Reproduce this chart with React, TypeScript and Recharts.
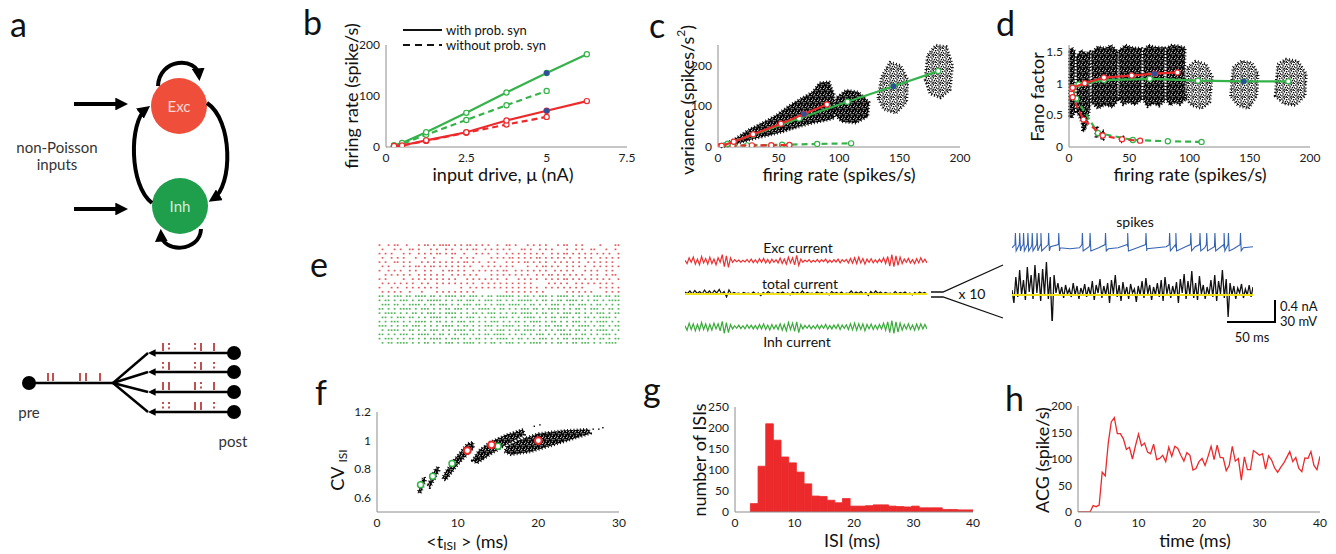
import React from "react";
import {
  ScatterChart,
  Scatter,
  XAxis,
  YAxis,
  ReferenceArea,
  ReferenceLine,
  LineChart,
  Line,
  ComposedChart,
  Bar,
} from "recharts";

const FONT = "Lato, 'Open Sans', sans-serif";
const AX = "#8c8c8c";
const GREEN = "#35b34a";
const RED = "#ec2a2c";
const BLUE = "#2d4f9c";

// ---- b: firing rate vs input drive
const driveAll = [0.25, 0.5, 1.25, 2.5, 3.75, 5, 6.25];
const driveNoProb = [0.25, 0.5, 1.25, 2.5, 3.75, 5];
const inhRateWith = [3, 8, 29, 67, 107, 145, 182];
const excRateWith = [2, 3, 13, 29, 52, 71, 90];
const inhRateWithout = [3, 6, 24, 53, 82, 110];
const excRateWithout = [2, 3, 12, 28, 44, 59];

// ---- c: spike count variance
const inhVarWith = [2.8, 7.8, 30, 70, 111, 149, 186];
const excVarWith = [1.8, 2.8, 13, 31, 57, 81, 104];
const inhVarWithout = [2.8, 4.5, 4, 5.5, 7.5, 9];
const excVarWithout = [1.7, 2, 3.5, 4, 4.3, 4.8];

// ---- d: Fano factor
const inhFanoWith = [0.93, 0.98, 1.05, 1.07, 1.04, 1.03, 1.03];
const excFanoWith = [0.91, 0.93, 1.0, 1.09, 1.12, 1.15, 1.17];
const inhFanoWithout = [0.93, 0.76, 0.22, 0.11, 0.09, 0.08];
const excFanoWithout = [0.84, 0.78, 0.43, 0.18, 0.12, 0.1];

// trial clouds (outline of the dot clouds, data units)
const cBand = [[3, 0], [5, 6], [15, 22], [25, 42], [37, 60], [48, 78], [58, 100], [68, 118], [78, 135], [84, 158], [92, 160], [96, 130], [96, 70], [88, 64], [78, 58], [68, 50], [55, 38], [42, 28], [30, 20], [18, 10], [8, 2]];
const c107 = [[95, 85], [98, 122], [106, 140], [116, 135], [125, 110], [124, 75], [114, 58], [102, 62]];
const c145 = [[132, 120], [135, 172], [142, 208], [151, 200], [157, 165], [156, 110], [147, 82], [137, 92]];
const c182 = [[171, 165], [173, 225], [180, 250], [189, 246], [194, 200], [192, 140], [184, 120], [175, 130]];

const dA = [[0.3, 0.48], [0.3, 1.52], [2.5, 1.56], [5, 1.5], [4.5, 1.0], [5, 0.55], [2.5, 0.45]];
const dB = [[6, 0.55], [6.5, 1.0], [6, 1.42], [10, 1.52], [14, 1.47], [17.5, 1.5], [17, 1.0], [17.5, 0.62], [14.5, 0.32], [12, 0.24], [10.5, 0.38], [8, 0.5]];
const dC = [[18.5, 0.7], [19, 1.1], [18.5, 1.48], [24, 1.58], [30, 1.55], [35, 1.6], [40.5, 1.5], [40, 1.05], [40.5, 0.72], [36, 0.62], [30, 0.66], [24, 0.6]];
const dD = [[41.5, 0.75], [42, 1.1], [41.5, 1.52], [47, 1.6], [53, 1.56], [60.5, 1.55], [60, 1.1], [60.5, 0.74], [55, 0.66], [49, 0.7], [45, 0.66]];
const dE = [[61.5, 0.74], [62, 1.1], [61.5, 1.52], [66, 1.6], [72, 1.57], [79.5, 1.56], [79, 1.1], [79.5, 0.72], [75, 0.64], [70, 0.68], [65, 0.63]];
const dF = [[80.5, 0.74], [81, 1.1], [80.5, 1.55], [85, 1.6], [91, 1.59], [96.5, 1.56], [96, 1.1], [96.5, 0.74], [92, 0.66], [88, 0.7], [84, 0.65]];
const dG = [[97, 0.75], [98, 1.25], [105, 1.35], [114, 1.3], [119, 1.1], [117, 0.7], [110, 0.6], [102, 0.65]];
const dH = [[134, 0.8], [136, 1.25], [143, 1.35], [152, 1.32], [157, 1.15], [156, 0.8], [149, 0.6], [140, 0.65]];
const dI = [[171, 0.8], [173, 1.3], [180, 1.38], [190, 1.35], [197, 1.15], [196, 0.8], [188, 0.65], [178, 0.68]];
const dS1 = [[11, 0.25], [11.5, 0.55], [13.5, 0.55], [13, 0.25]];
const dS2 = [[22, 0.15], [22.5, 0.32], [24, 0.32], [23.5, 0.15]];
const dS3 = [[27, 0.12], [27.5, 0.26], [29, 0.26], [28.5, 0.12]];
const dS4 = [[43, 0.08], [43.5, 0.16], [45, 0.16], [44.5, 0.08]];

// ---- e: raster (1 = spike), currents, membrane potential
const excRaster = [
  "1..1.11..1...1.11.1.1111.1.1.11.1.1.1..1..11.1...1.1.1.1...1.11..1.1.....1....11",
  ".1...1.1..11.1...1.1..1.1..1.1.11..1.1.1.1.1...11.1..1.1.1....1..1.1..11...1..1.",
  "1.1.1...1.1..1.1.1.11.1.11..1...1.1.1..1..1.1.1.1.1.1.1..1.1.11.1.1.1.1.1.1.1..1",
  ".1..1.1.1...1..1..1.....1..1.1.1.....1.1.1.11.1.1.1.11.1.1.1.1.1..1.1.1..1.1.1.1",
  "1.1..11.1.1...1.1.1.1.1.1.1.11.1.1..1.1...1.1.1.11.1.1.1..1.1.1.1.1..1.1.1.1.1..",
  ".1.1....1.1.11.1.11.1.1.1.1.1.1...1.1.1.1.1.1....1..1.11.1.1..1.1.1.1..1.1.1.1.1",
  "1..1.1.1..1.1..1.1...1.11.1.1..1.1.1.1.1.11..1.1.1.1.1.1..1.1.1.1...1.1.1..1.1..",
  "..1.1.1.1.1..1.1.1.1.1..1.1.1.1.1....1.1.1.1.1.1.1..1.1.11.1.1.1.1.1..1.1..1.11.",
  "1.1.....1..1.1.1.1.1.1.1.1...1.1.1.1.1.1..1...1.1.1.1..1.1.1.11.1.1.1.1.1.1.1..1",
  ".1.1.1.1.1.1..1.1..1.1.1.1.1.1.1..1.1.1.1.1.1.1.1.1.....1.1.1.1..1.1.1.1.1.1.1..",
  "1...1.1..1.1.1.1.1.1.......1..1.1.1.1.1.1.1.1.1.1.1.1..1.1.1.1.1.1.1.....1.1.1.1",
  ".1.1.1.1..1...1....1.1.1.1.1.1.1..........1.1.1.1.1.1.1.......1.1.1.1.1....1.1.1",
];
const inhRaster = [
  "11.1.111.11.1111.11.1.1111.11.111.1.11.111111.1.11.1.111.1.1111.1.11.1.111.11.11",
  "1.11.1.111.1.11.11111.1.1.11.111.1.111.11.1.1.11111.1.11.1.11.1111.1.1.11.1.1111",
  ".111.11.1.1111.1.11.111.1.1.111.11.1.1.111.1111.1.11.1.1.111.1.11.111.1.11.1.1.1",
  "11.1.1.1111.1.111.1.1.11.111.1.1.1111.1.11.1.1.111.11.1.1111.1.1.11.1.111.1.11.1",
  "1.1111.1.1.11.1.111.1.1111.1.1.11.1.111.1.1.11.1111.1.11.1.1.111.11.1.1.111.1.11",
  ".11.1.111.11.1.1.1111.1.11.1.111.1.1.11.111.1.1.1111.1.1.11.111.1.1.11.1.1111.1.",
  "1.1.111.1.1.1111.1.11.1.1.111.11.1.1.111.1.1.11.1.1111.1.11.1.1.111.1.1.1111.1.1",
  "111.1.1.11.111.1.1.1.1111.1.11.1.1.111.1.1111.1.11.1.1.11.111.1.1.1111.1.11.1.11",
  ".1.1111.1.11.1.1.111.1.1.1111.11.1.1.1.111.1.11.1111.1.1.1.111.1.11.1.1.1111.1.1",
  "11.1.1.111.1.1111.1.11.1.1.111.1.1.11.1111.1.1.11.1.111.1.1.1111.1.11.1.1.111.1.",
  "1.111.1.1.11.1.1.1111.1.111.1.1.11.1.1.1111.1.11.1.1.111.1.1.11.1111.1.1.11.1.11",
  ".1.11.1111.1.1.11.1.1.111.1.1111.1.1.11.1.111.1.1.1111.1.1.11.1.11.111.1.1.1111.",
];
const excCurrent = [0.1, -0.4, 0.5, -0.2, 0.6, -0.5, 0.3, -0.6, 0.7, -0.3, 0.4, -0.5, 0.6, -0.4, 0.3, -0.6, 0.5, -0.2, 1, -0.9, 0.8, -1, 0.5, -0.2, 0.2, -0.1, 0.15, -0.2, 0.1, -0.15, 0.25, -0.2, 0.3, -0.25, 0.2, -0.3, 0.35, -0.2, 0.4, -0.3, 0.25, -0.35, 0.3, -0.2, 0.2, -0.3, 0.45, -0.4, 0.3, -0.5, 0.6, -0.3, 0.5, -0.6, 0.9, -0.7, 0.3, -0.2, 0.15, -0.1, 0.2, -0.2, 0.1, -0.15, 0.25, -0.2, 0.2, -0.1, 0.3, -0.25, 0.15, -0.2, 0.2, -0.15, 0.3, -0.3, 0.2, -0.1, 0.25, -0.3, 0.4, -0.35, 0.5, -0.4, 0.6, -0.3, 0.4, -0.5, 0.3, -0.2, 0.35, -0.3, 0.2, -0.25, 0.3, -0.2, 0.5, -0.4, 0.7, -0.8, 1, -0.9, 0.8, -0.7, 0.6, -0.4, 0.3, -0.2, 0.4, -0.3, 0.2, -0.4, 0.35, -0.3, 0.5, -0.2, 0.3, -0.3];
const inhCurrent = [0.2, -0.5, 0.6, -0.4, 0.5, -0.6, 0.4, -0.5, 0.7, -0.4, 0.5, -0.6, 0.4, -0.5, 0.6, -0.3, 0.5, -0.6, 0.9, -1, 0.7, -0.9, 0.4, -0.3, 0.2, -0.2, 0.3, -0.25, 0.2, -0.3, 0.35, -0.2, 0.3, -0.3, 0.25, -0.35, 0.4, -0.3, 0.5, -0.4, 0.3, -0.45, 0.4, -0.3, 0.3, -0.4, 0.5, -0.5, 0.4, -0.6, 0.7, -0.4, 0.6, -0.7, 0.8, -0.9, 0.4, -0.3, 0.25, -0.2, 0.3, -0.3, 0.2, -0.25, 0.35, -0.3, 0.3, -0.2, 0.4, -0.35, 0.25, -0.3, 0.3, -0.25, 0.4, -0.4, 0.3, -0.2, 0.35, -0.4, 0.5, -0.45, 0.6, -0.5, 0.5, -0.4, 0.5, -0.6, 0.4, -0.3, 0.45, -0.4, 0.3, -0.35, 0.4, -0.3, 0.6, -0.5, 0.8, -0.9, 1, -1, 0.8, -0.8, 0.6, -0.5, 0.4, -0.3, 0.5, -0.4, 0.3, -0.5, 0.45, -0.4, 0.5, -0.3, 0.4, -0.3];
const totalCurrent = [0.4, 0.1, 0.6, 0, 0.7, 0.1, 0.5, 0, 0.8, 0.1, 0.6, 0, 0.7, 0.2, 0.9, 0, 0.5, -0.6, 0.8, 0, 0.3, 0.1, 0.2, 0, 0.3, 0.1, 0.2, 0, 0.4, 0, 0.2, -0.3, 0.3, 0, 0.5, 0.1, 0.2, 0, 0.3, 0.1, 0.4, 0, 0.2, -0.2, 0.4, 0.1, 0.3, 0, 0.6, 0, 0.3, 0.1, 0.2, 0, 0.4, 0.1, 0.3, 0, 0.2, -0.2, 0.5, 0.1, 0.3, 0, 0.4, 0, 0.2, 0.1, 0.6, 0, 0.4, 0.1, 0.5, 0, 0.3, -0.3, 0.5, 0, 0.6, 0.1, 0.4, 0, 0.3, 0.1, 0.2, 0, 0.5, 0, 0.3, 0.1, 0.4, 0, 0.2, -0.2, 0.3, 0, 0.4, 0.1, 0.3, 0];
const totalZoom = [5, -8, 18, -2, 25, 0, 15, -5, 28, 3, 20, -4, 30, 2, 22, -6, 26, 0, 33, -4, 18, -30, 20, 2, 12, 0, 8, -3, 10, 1, 6, -2, 12, 0, 9, -4, 7, 1, 11, -2, 8, 0, 14, -5, 10, 2, 16, -3, 9, 0, 12, -8, 15, 1, 20, -2, 10, -6, 13, 0, 8, -4, 11, 2, 6, -7, 9, 0, 14, -3, 17, 1, 10, -5, 8, 0, 12, -2, 15, -6, 18, 1, 11, -3, 9, 0, 13, -8, 16, 2, 21, -4, 14, 0, 24, -3, 12, -5, 19, 1, 10, -4, 8, 0, 15, -2, 20, -6, 14, 1, 25, -3, 16, -22, 12, 0, 9, -4, 7, 2, 11, -3, 6, 0, 10, -2, 8];
const vmEvery10ms = [-1, 0, 0, 1, 0, -1, -2, -1, 0, -1, -2, -1, 0, -1, -2, -1, 0, -1, 0, 0, -1, 0, -1, -2, -1, 0];
const spikeTimes = [3.5, 8, 12, 16.5, 21, 26, 30, 38, 48.5, 73, 81, 97, 120, 139, 163.5, 170, 185.5, 195, 202, 210.5, 220, 224.5, 237];

// ---- f: CV vs mean ISI
const fC1 = [[5.1, 0.64], [5.4, 0.63], [6.0, 0.72], [5.9, 0.745], [5.6, 0.73]];
const fC2 = [[6.3, 0.69], [6.55, 0.67], [7.7, 0.79], [7.6, 0.82], [7.2, 0.8]];
const fC3 = [[8.1, 0.74], [8.5, 0.72], [10, 0.83], [12, 0.95], [11.9, 0.99], [11.2, 0.98], [9.6, 0.87], [8.6, 0.79]];
const fC4 = [[11.8, 0.86], [12.4, 0.84], [14, 0.9], [16, 0.97], [18.3, 1.04], [18.1, 1.08], [16, 1.04], [14, 0.99], [12.6, 0.93]];
const fC5 = [[15.8, 0.92], [16.6, 0.9], [19, 0.92], [22, 0.97], [26.5, 1.05], [26.2, 1.08], [23, 1.07], [20, 1.05], [17.5, 1.0], [16.1, 0.96]];
const fStrayX = [12.5, 13, 18.5, 19.5, 20.2, 21, 24, 26.8, 27.5, 28];
const fStrayY = [0.87, 0.88, 1.02, 1.1, 1.11, 1.04, 1.02, 1.08, 1.08, 1.09];
const fGreenX = [5.4, 6.9, 9.3, 15.0];
const fGreenY = [0.69, 0.75, 0.84, 0.96];
const fRedX = [11.2, 14.2, 20.0];
const fRedY = [0.93, 0.97, 1.0];

// ---- g: ISI histogram, 31 bins over 0-40 ms
const isiCounts = [0, 0, 20, 109, 210, 171, 131, 117, 95, 67, 38, 37, 28, 22, 32, 14, 14, 15, 17, 17, 14, 13, 12, 14, 10, 10, 10, 6, 6, 5, 5];

// ---- h: autocorrelogram, every 0.5 ms
const acg = [0, 0, 0, 0, 0, 12, 10, 13, 75, 68, 130, 170, 178, 148, 148, 138, 118, 122, 100, 125, 147, 125, 130, 113, 110, 128, 99, 101, 107, 95, 122, 105, 124, 120, 107, 96, 112, 107, 79, 82, 95, 101, 88, 105, 124, 99, 126, 103, 102, 78, 88, 124, 96, 101, 60, 104, 80, 80, 116, 112, 107, 110, 81, 106, 98, 83, 75, 84, 92, 103, 114, 95, 103, 82, 76, 102, 101, 114, 88, 80, 105];

const xy = (xs: number[], ys: number[]) => xs.map((x, i) => ({ x, y: ys[i] }));
const series = (vals: number[]) => vals.map((v, i) => ({ i, v }));
const rasterPts = (rows: string[], top: number) =>
  rows.flatMap((row, r) =>
    [...row].flatMap((ch, c) => (ch === "1" ? [{ x: c + 0.5, y: top - r - 0.5 }] : []))
  );
const vmPts = [
  ...vmEvery10ms.map((v, i) => ({ t: i * 10, v })),
  ...spikeTimes.flatMap((t) => [
    { t: t - 0.4, v: 2 },
    { t, v: 13 },
    { t: t + 0.8, v: -4 },
  ]),
].sort((a, b) => a.t - b.t);

const YW = 40, MT = 10, MR = 20, XH = 22;
const frame = (l: number, t: number, w: number, h: number) => ({
  style: { position: "absolute" as const, left: l - YW, top: t - MT },
  width: YW + w + MR,
  height: MT + h + XH,
  margin: { top: MT, right: MR, left: 0, bottom: 0 },
});
const tickFont = { fill: "#1a1a1a", fontSize: 12, fontFamily: FONT };

const xAx = (domain: number[], ticks: number[]) => (
  <XAxis type="number" dataKey="x" domain={domain} ticks={ticks} interval={0} height={XH}
    axisLine={{ stroke: AX }} tickLine={false} tickSize={3} tickMargin={3} tick={tickFont} allowDataOverflow />
);
const yAx = (domain: number[], ticks: number[], key = "y") => (
  <YAxis type="number" dataKey={key} domain={domain} ticks={ticks} interval={0} width={YW}
    axisLine={{ stroke: AX }} tickLine={false} tickSize={3} tickMargin={3} tick={tickFont} allowDataOverflow />
);

const ring = (c: string, r = 2.6, sw = 1.2) => (p: any) => (
  <circle cx={p.cx} cy={p.cy} r={r} fill="#fff" stroke={c} strokeWidth={sw} />
);
const blueDot = (p: any) => <circle cx={p.cx} cy={p.cy} r={2.8} fill={BLUE} />;
const speck = (p: any) => <rect x={p.cx - 0.7} y={p.cy - 0.7} width={1.4} height={1.4} fill="#000" />;

const cloud = (pts: number[][], key: string, fill: string) => {
  const xs = pts.map((p) => p[0]);
  const ys = pts.map((p) => p[1]);
  const x1 = Math.min(...xs), x2 = Math.max(...xs), y1 = Math.min(...ys), y2 = Math.max(...ys);
  return (
    <ReferenceArea key={key} x1={x1} x2={x2} y1={y1} y2={y2} ifOverflow="visible"
      shape={(p: any) => {
        const pp = pts
          .map(([vx, vy]) => `${p.x + ((vx - x1) / (x2 - x1)) * p.width},${p.y + ((y2 - vy) / (y2 - y1)) * p.height}`)
          .join(" ");
        return (
          <polygon points={pp} fill={`url(#${fill})`} stroke="#000" strokeWidth={2.6}
            strokeDasharray="0.9 2.3" strokeLinejoin="round" />
        );
      }}
    />
  );
};

const curve = (data: any[], color: string, dashed: boolean, marker: any, key: string) => (
  <Scatter key={key} data={data} isAnimationActive={false} shape={marker} lineType="joint"
    line={{ stroke: color, strokeWidth: 2.2, strokeDasharray: dashed ? "6 4" : undefined }} />
);

function Trace({ l, t, w, h, vals, domain, color, sw = 1.2, zero }: any) {
  return (
    <div style={{ position: "absolute", left: l, top: t }}>
      <LineChart width={w} height={h} data={series(vals)} margin={{ top: 0, right: 0, left: 0, bottom: 0 }}>
        <XAxis type="number" dataKey="i" domain={[0, vals.length - 1]} hide />
        <YAxis type="number" domain={domain} hide allowDataOverflow />
        <Line dataKey="v" stroke={color} strokeWidth={sw} dot={false} type="linear" isAnimationActive={false} />
        {zero ? <ReferenceLine y={0} stroke={zero} strokeWidth={2} ifOverflow="visible" /> : null}
      </LineChart>
    </div>
  );
}

function PanelB() {
  const f = frame(386, 45, 241, 102);
  return (
    <div style={f.style}>
      <ScatterChart width={f.width} height={f.height} margin={f.margin}>
        {xAx([0, 7.5], [0, 2.5, 5, 7.5])}
        {yAx([0, 200], [0, 100, 200])}
        {curve(xy(driveNoProb, inhRateWithout), GREEN, true, ring(GREEN), "g2")}
        {curve(xy(driveNoProb, excRateWithout), RED, true, ring(RED), "r2")}
        {curve(xy(driveAll, inhRateWith), GREEN, false, ring(GREEN), "g1")}
        {curve(xy(driveAll, excRateWith), RED, false, ring(RED), "r1")}
        <Scatter data={[{ x: driveAll[5], y: inhRateWith[5] }, { x: driveAll[5], y: excRateWith[5] }]} shape={blueDot} isAnimationActive={false} />
      </ScatterChart>
    </div>
  );
}

function PanelC() {
  const f = frame(718, 45, 242, 102);
  return (
    <div style={f.style}>
      <ScatterChart width={f.width} height={f.height} margin={f.margin}>
        {xAx([0, 200], [0, 50, 100, 150, 200])}
        {yAx([0, 250], [0, 100, 200])}
        {cloud(cBand, "cb", "pD")}
        {cloud(c107, "c1", "pD")}
        {cloud(c145, "c2", "pM")}
        {cloud(c182, "c3", "pM")}
        {curve(xy(inhRateWithout, inhVarWithout), GREEN, true, ring(GREEN), "g2")}
        {curve(xy(excRateWithout, excVarWithout), RED, true, ring(RED), "r2")}
        {curve(xy(inhRateWith, inhVarWith), GREEN, false, ring(GREEN), "g1")}
        {curve(xy(excRateWith, excVarWith), RED, false, ring(RED), "r1")}
        <Scatter data={[{ x: inhRateWith[5], y: inhVarWith[5] }, { x: excRateWith[5], y: excVarWith[5] }]} shape={blueDot} isAnimationActive={false} />
      </ScatterChart>
    </div>
  );
}

function PanelD() {
  const f = frame(1069, 45, 241, 102);
  const dense = [dA, dB, dC, dD, dE, dF, dS1, dS2, dS3, dS4];
  const medium = [dG, dH, dI];
  return (
    <div style={f.style}>
      <ScatterChart width={f.width} height={f.height} margin={f.margin}>
        {xAx([0, 200], [0, 50, 100, 150, 200])}
        {yAx([0, 1.6], [0, 0.5, 1, 1.5])}
        {dense.map((p, i) => cloud(p, "dd" + i, "pD"))}
        {medium.map((p, i) => cloud(p, "dm" + i, "pM"))}
        {curve(xy(inhRateWithout, inhFanoWithout), GREEN, true, ring(GREEN), "g2")}
        {curve(xy(excRateWithout, excFanoWithout), RED, true, ring(RED), "r2")}
        {curve(xy(inhRateWith, inhFanoWith), GREEN, false, ring(GREEN), "g1")}
        {curve(xy(excRateWith, excFanoWith), RED, false, ring(RED), "r1")}
        <Scatter data={[{ x: inhRateWith[5], y: inhFanoWith[5] }, { x: excRateWith[5], y: excFanoWith[5] }]} shape={blueDot} isAnimationActive={false} />
      </ScatterChart>
    </div>
  );
}

function PanelF() {
  const f = frame(377, 412, 242, 100);
  return (
    <div style={f.style}>
      <ScatterChart width={f.width} height={f.height} margin={f.margin}>
        {xAx([0, 30], [0, 10, 20, 30])}
        {yAx([0.5, 1.2], [0.6, 0.8, 1, 1.2])}
        {[fC1, fC2, fC3, fC4, fC5].map((p, i) => cloud(p, "f" + i, "pD"))}
        <Scatter data={xy(fStrayX, fStrayY)} shape={speck} isAnimationActive={false} />
        <Scatter data={xy(fGreenX, fGreenY)} shape={ring(GREEN, 3, 1.5)} isAnimationActive={false} />
        <Scatter data={xy(fRedX, fRedY)} shape={ring(RED, 3.4, 2)} isAnimationActive={false} />
      </ScatterChart>
    </div>
  );
}

function PanelG() {
  const plotW = 238;
  const f = frame(735, 407, plotW, 105);
  const binW = 40 / isiCounts.length;
  const data = isiCounts.map((n, i) => ({ x: (i + 0.5) * binW, n }));
  return (
    <div style={f.style}>
      <ComposedChart width={f.width} height={f.height} margin={f.margin} data={data} barGap={0}>
        {xAx([0, 40], [0, 10, 20, 30, 40])}
        {yAx([0, 250], [0, 50, 100, 150, 200, 250], "n")}
        <Bar dataKey="n" fill={RED} stroke={RED} strokeWidth={0.8}
          barSize={plotW / isiCounts.length - 0.02} isAnimationActive={false} />
      </ComposedChart>
    </div>
  );
}

function PanelH() {
  const f = frame(1078, 406, 242, 106);
  const data = acg.map((v, i) => ({ x: i * 0.5, v }));
  return (
    <div style={f.style}>
      <LineChart width={f.width} height={f.height} margin={f.margin} data={data}>
        {xAx([0, 40], [0, 10, 20, 30, 40])}
        {yAx([0, 200], [0, 50, 100, 150, 200], "v")}
        <Line dataKey="v" stroke={RED} strokeWidth={1.3} dot={false} type="linear" isAnimationActive={false} />
      </LineChart>
    </div>
  );
}

function Raster() {
  const sq = (c: string) => (p: any) => <rect x={p.cx - 0.9} y={p.cy - 0.8} width={1.8} height={1.6} fill={c} />;
  return (
    <div style={{ position: "absolute", left: 378, top: 243 }}>
      <ScatterChart width={242} height={102} margin={{ top: 0, right: 0, left: 0, bottom: 0 }}>
        <XAxis type="number" dataKey="x" domain={[0, 80]} hide />
        <YAxis type="number" dataKey="y" domain={[0, 24]} hide />
        <Scatter data={rasterPts(excRaster, 24)} shape={sq("#e2585a")} isAnimationActive={false} />
        <Scatter data={rasterPts(inhRaster, 12)} shape={sq("#4fb358")} isAnimationActive={false} />
      </ScatterChart>
    </div>
  );
}

function Membrane() {
  return (
    <div style={{ position: "absolute", left: 1012, top: 232 }}>
      <LineChart width={241} height={21} data={vmPts} margin={{ top: 0, right: 0, left: 0, bottom: 0 }}>
        <XAxis type="number" dataKey="t" domain={[0, 250]} hide />
        <YAxis type="number" domain={[-6, 14]} hide />
        <Line dataKey="v" stroke="#3563b3" strokeWidth={1.1} dot={false} type="linear" isAnimationActive={false} />
      </LineChart>
    </div>
  );
}

const T = (p: any) => (
  <text fontFamily={FONT} fill="#111" textAnchor="middle" dominantBaseline="central" {...p} />
);

const tickRows = [
  { y: 353, marks: "|: :||" },
  { y: 372, marks: ":| :|:" },
  { y: 392, marks: "|| |:|" },
  { y: 412, marks: ":: ||:" },
];
const tickXs = [163, 169, 0, 195, 201, 214];

// irregular stipple tiles for the dot clouds
const denseHoles = [[0.5, 1.2], [3.4, 0.3], [2.1, 3.6], [4.8, 2.7], [1.2, 5.0], [4.2, 4.9], [5.5, 0.9]];
const mediumDots = [[0.2, 0.4], [2.6, 0.1], [4.9, 1.0], [1.4, 2.2], [3.8, 2.9], [6.0, 3.2], [0.3, 4.1], [2.4, 4.6], [4.6, 5.1], [1.5, 6.2], [5.6, 6.0], [3.3, 6.4]];

function Overlay() {
  const letters: [string, number, number][] = [
    ["a", 10, 37], ["b", 303, 35], ["c", 649, 38], ["d", 996, 36],
    ["e", 310, 277], ["f", 315, 405], ["g", 643, 402], ["h", 1005, 411],
  ];
  const thick = { stroke: "#000", strokeWidth: 4, fill: "none", markerEnd: "url(#ah)" };
  const thin = { stroke: "#000", strokeWidth: 2.4, fill: "none" };
  return (
    <svg width={1336} height={554} style={{ position: "absolute", left: 0, top: 0, pointerEvents: "none" }}>
      <defs>
        <marker id="ah" viewBox="0 0 10 10" refX="6" refY="5" markerWidth="3.2" markerHeight="3.2" orient="auto">
          <path d="M0,0 L10,5 L0,10 z" fill="#000" />
        </marker>
      </defs>
      {letters.map(([s, x, y]) => (
        <text key={s} x={x} y={y} fontFamily={FONT} fontSize={34} fill="#111">{s}</text>
      ))}

      {/* a: network */}
      <circle cx={179} cy={106} r={28} fill="#ef4f3a" />
      <circle cx={180} cy={206} r={28} fill="#1f9e4c" />
      <T x={179} y={106} fontSize={15} fill="#fbd9d2">Exc</T>
      <T x={180} y={206} fontSize={15} fill="#d3ecd9">Inh</T>
      <line x1={74} y1={104} x2={123} y2={104} {...thick} />
      <line x1={74} y1={209} x2={123} y2={209} {...thick} />
      <path d="M158,86 C159,58 197,56 199,76" {...thick} />
      <path d="M201,229 C200,253 162,253 161,234" {...thick} />
      <path d="M207,103 C233,120 233,186 213,199" {...thick} />
      <path d="M152,203 C129,186 129,122 146,109" {...thick} />
      <T x={57} y={147} fontSize={15} fill="#333">non-Poisson</T>
      <T x={57} y={164} fontSize={15} fill="#333">inputs</T>

      {/* a: synapses */}
      <line x1={29} y1={383} x2={113} y2={383} {...thin} />
      <circle cx={29} cy={383} r={7} fill="#000" />
      {[48, 53, 80, 86, 100].map((x) => (
        <line key={x} x1={x} y1={373} x2={x} y2={381} stroke="#c0504d" strokeWidth={2} />
      ))}
      {tickRows.map((row) => (
        <g key={row.y}>
          <line x1={113} y1={383} x2={148} y2={row.y} {...thin} />
          <line x1={234} y1={row.y} x2={151} y2={row.y} {...thin} markerEnd="url(#ah)" />
          <circle cx={234} cy={row.y} r={7} fill="#000" />
          {[...row.marks].map((m, i) =>
            m === " " ? null : (
              <line key={i} x1={tickXs[i]} y1={row.y - 10} x2={tickXs[i]} y2={row.y - 2}
                stroke="#c0504d" strokeWidth={2} strokeDasharray={m === ":" ? "2 2.5" : undefined} />
            )
          )}
        </g>
      ))}
      <T x={29} y={412} fontSize={15} fill="#333">pre</T>
      <T x={233} y={441} fontSize={15} fill="#333">post</T>

      {/* b legend */}
      <line x1={403} y1={30} x2={442} y2={30} stroke="#111" strokeWidth={2.2} />
      <line x1={403} y1={45} x2={442} y2={45} stroke="#111" strokeWidth={2.2} strokeDasharray="7 5" />
      <T x={446} y={30} fontSize={13} textAnchor="start">with prob. syn</T>
      <T x={446} y={45} fontSize={13} textAnchor="start">without prob. syn</T>

      {/* axis titles */}
      <T x={351} y={96} fontSize={18} transform="rotate(-90 351 96)">firing rate (spike/s)</T>
      <T x={503} y={174} fontSize={18}>input drive, μ (nA)</T>
      <T x={687} y={100} fontSize={18} transform="rotate(-90 687 100)">
        variance (spikes/s<tspan fontSize={12} dy={-7}>2</tspan><tspan dy={7}>)</tspan>
      </T>
      <T x={839} y={174} fontSize={18}>firing rate (spikes/s)</T>
      <T x={1037} y={97} fontSize={18} transform="rotate(-90 1037 97)">Fano factor</T>
      <T x={1190} y={174} fontSize={18}>firing rate (spikes/s)</T>
      <T x={337} y={470} fontSize={18} transform="rotate(-90 337 470)">
        CV <tspan fontSize={12} dy={5}>ISI</tspan>
      </T>
      <T x={467} y={541} fontSize={18}>
        {"<t"}<tspan fontSize={12} dy={4}>ISI</tspan><tspan dy={-4}>{" > (ms)"}</tspan>
      </T>
      <T x={699} y={460} fontSize={18} transform="rotate(-90 699 460)">number of ISIs</T>
      <T x={852} y={540} fontSize={18}>ISI (ms)</T>
      <T x={1042} y={460} fontSize={18} transform="rotate(-90 1042 460)">ACG (spike/s)</T>
      <T x={1195} y={540} fontSize={18}>time (ms)</T>

      {/* e annotations */}
      <T x={798} y={247} fontSize={14}>Exc current</T>
      <T x={800} y={283} fontSize={14}>total current</T>
      <T x={797} y={341} fontSize={14}>Inh current</T>
      <path d="M931,292 L943,292 L1003,265 M931,297 L943,297 L1003,318" stroke="#111" strokeWidth={1.3} fill="none" />
      <T x={972} y={293} fontSize={14}>x 10</T>
      <T x={1135} y={221} fontSize={14}>spikes</T>
      <path d="M1227,322 L1275,322 L1275,300" stroke="#000" strokeWidth={2} fill="none" />
      <T x={1280} y={306} fontSize={13} textAnchor="start">0.4 nA</T>
      <T x={1280} y={321} fontSize={13} textAnchor="start">30 mV</T>
      <T x={1252} y={337} fontSize={13}>50 ms</T>
    </svg>
  );
}

export default function App() {
  return (
    <div style={{ position: "relative", width: 1336, height: 554, background: "#fff", fontFamily: FONT, overflow: "hidden" }}>
      <style>{`body{margin:0}`}</style>
      <svg width={0} height={0} style={{ position: "absolute" }}>
        <defs>
          <pattern id="pD" width="6" height="6" patternUnits="userSpaceOnUse">
            <rect width="6" height="6" fill="#000" />
            {denseHoles.map(([x, y], i) => (
              <rect key={i} x={x} y={y} width={1} height={1} fill="#fff" />
            ))}
          </pattern>
          <pattern id="pM" width="7" height="7" patternUnits="userSpaceOnUse">
            {mediumDots.map(([x, y], i) => (
              <rect key={i} x={x} y={y} width={1.4} height={1.4} fill="#000" />
            ))}
          </pattern>
        </defs>
      </svg>
      <PanelB />
      <PanelC />
      <PanelD />
      <Raster />
      <Trace l={685} t={254} w={242} h={14} vals={excCurrent} domain={[-1.1, 1.1]} color="#ee3030" />
      <Trace l={685} t={288} w={242} h={10} vals={totalCurrent} domain={[-0.8, 1.2]} color="#111" zero="#f2e21a" />
      <Trace l={685} t={320} w={242} h={14} vals={inhCurrent} domain={[-1.1, 1.1]} color="#3aaa3a" />
      <Membrane />
      <Trace l={1012} t={259} w={241} h={62} vals={totalZoom} domain={[-26, 36]} color="#111" sw={1.3} zero="#f2e21a" />
      <PanelF />
      <PanelG />
      <PanelH />
      <Overlay />
    </div>
  );
}
